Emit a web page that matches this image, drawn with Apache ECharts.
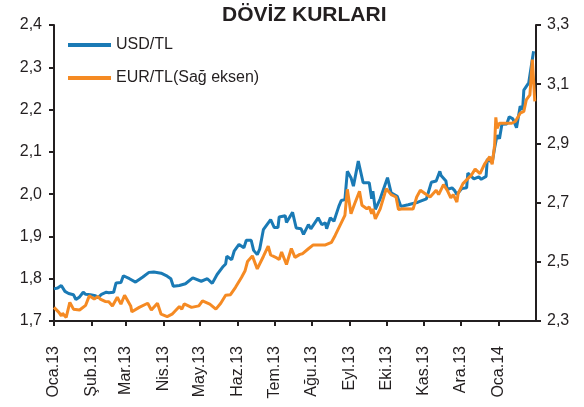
<!DOCTYPE html>
<html>
<head>
<meta charset="utf-8">
<title>Döviz Kurları</title>
<script src="https://cdn.jsdelivr.net/npm/echarts@6.0.0/dist/echarts.min.js"></script>
<style>
  html, body { margin: 0; padding: 0; background: #fff; }
  .echarts_box { width: 584px; height: 407px; }
</style>
</head>
<body>
<div class="echarts_box"></div>
<script>
// gün sayısı: 1 Ocak 2013'ten itibaren
var usdDays = [0, 3, 6, 9, 12, 16, 18, 21, 24, 26, 30, 34, 36, 39, 43, 45, 49, 51, 55, 57,
  62, 67, 73, 78, 82, 88, 93, 96, 98, 103, 108, 114, 121, 126, 130, 134, 139, 141, 142, 146,
  148, 152, 156, 158, 162, 164, 167, 169, 172, 178, 181, 184, 185, 190, 191, 196, 199, 203, 205, 209,
  211, 217, 220, 223, 224, 227, 230, 234, 236, 239, 241, 244, 246, 250, 254, 259, 261, 262, 264, 268,
  274, 277, 282, 285, 291, 299, 306, 310, 314, 317, 318, 322, 323, 327, 329, 331, 335, 339, 340, 345,
  349, 351, 355, 356, 360, 362, 364, 366, 368, 372, 374, 377, 380, 383, 385, 386, 390, 394];
var usdRates = [1.776, 1.778, 1.784, 1.770, 1.765, 1.762, 1.751, 1.757, 1.768, 1.763, 1.762, 1.760, 1.755, 1.763, 1.768, 1.767, 1.768, 1.790, 1.791, 1.807,
  1.800, 1.792, 1.804, 1.815, 1.816, 1.813, 1.806, 1.800, 1.782, 1.784, 1.788, 1.802, 1.794, 1.800, 1.789, 1.810, 1.829, 1.835, 1.853, 1.845,
  1.865, 1.881, 1.873, 1.891, 1.891, 1.867, 1.857, 1.870, 1.916, 1.940, 1.921, 1.921, 1.946, 1.949, 1.933, 1.957, 1.920, 1.918, 1.905, 1.928,
  1.918, 1.944, 1.928, 1.932, 1.918, 1.944, 1.936, 1.971, 1.985, 1.987, 2.054, 2.039, 2.019, 2.078, 2.027, 2.027, 1.989, 2.007, 1.964, 1.989,
  2.039, 2.003, 1.995, 1.971, 1.975, 1.981, 1.989, 2.028, 2.031, 2.054, 2.044, 2.031, 2.011, 2.015, 2.009, 1.999, 2.013, 2.015, 2.050, 2.036,
  2.041, 2.035, 2.042, 2.083, 2.075, 2.109, 2.139, 2.131, 2.165, 2.166, 2.183, 2.178, 2.157, 2.208, 2.200, 2.246, 2.263, 2.338];

var eurDays = [0, 4, 6, 7, 10, 13, 16, 21, 26, 29, 33, 36, 38, 42, 45, 48, 52, 55, 58, 63,
  64, 70, 77, 80, 85, 88, 93, 97, 103, 105, 107, 113, 119, 122, 128, 133, 137, 141, 145, 149,
  154, 157, 159, 163, 167, 172, 176, 178, 183, 185, 187, 191, 195, 198, 202, 204, 209, 213, 223, 228,
  231, 235, 239, 241, 244, 247, 251, 253, 257, 259, 261, 262, 264, 268, 273, 277, 281, 283, 287, 295,
  298, 301, 305, 309, 314, 316, 320, 323, 326, 328, 331, 332, 336, 340, 343, 346, 350, 354, 358, 360,
  362, 363, 364, 366, 372, 376, 379, 383, 386, 388, 391, 393, 395];
var eurRates = [2.346, 2.329, 2.317, 2.326, 2.312, 2.363, 2.340, 2.337, 2.353, 2.385, 2.374, 2.383, 2.374, 2.366, 2.365, 2.351, 2.380, 2.357, 2.387, 2.351,
  2.331, 2.346, 2.360, 2.337, 2.360, 2.323, 2.315, 2.323, 2.349, 2.340, 2.358, 2.346, 2.351, 2.368, 2.357, 2.340, 2.360, 2.387, 2.389, 2.413,
  2.447, 2.470, 2.501, 2.520, 2.476, 2.518, 2.553, 2.523, 2.513, 2.508, 2.533, 2.491, 2.545, 2.515, 2.525, 2.527, 2.544, 2.557, 2.557, 2.566,
  2.589, 2.623, 2.657, 2.745, 2.662, 2.696, 2.738, 2.691, 2.679, 2.685, 2.662, 2.679, 2.645, 2.679, 2.747, 2.727, 2.719, 2.677, 2.679, 2.678,
  2.719, 2.742, 2.730, 2.719, 2.742, 2.727, 2.761, 2.742, 2.716, 2.727, 2.702, 2.730, 2.764, 2.781, 2.793, 2.813, 2.798, 2.832, 2.855, 2.829,
  2.894, 2.988, 2.951, 2.968, 2.968, 2.968, 2.974, 3.002, 3.008, 3.047, 3.064, 3.183, 3.042];

var monthLabels = ['Oca.13', 'Şub.13', 'Mar.13', 'Nis.13', 'May.13', 'Haz.13', 'Tem.13',
  'Ağu.13', 'Eyl.13', 'Eki.13', 'Kas.13', 'Ara.13', 'Oca.14'];
var usdTicks = [1.7, 1.8, 1.9, 2.0, 2.1, 2.2, 2.3, 2.4];
var eurTicks = [2.3, 2.5, 2.7, 2.9, 3.1, 3.3];

// yardımcılar
var DAY = 86400000;
function monthDay(y, m) {
  return Math.round((Date.UTC(y, m, 1) - Date.UTC(2013, 0, 1)) / DAY);
}
function pairs(days, rates) {
  return days.map(function (d, i) { return [d, rates[i]]; });
}
function comma(v) {
  return Number(v).toFixed(1).replace('.', ',');
}
// ay başları (gün olarak)
var monthStarts = monthLabels.map(function (m, i) { return monthDay(2013, i); });
var lastDay = monthDay(2014, 1);

var myChart = echarts.init(document.querySelector('.echarts_box'));

var axisColor = '#231f20';
var fontName = 'Liberation Sans';

var option = {
  animation: false,
  title: {
    text: 'DÖVİZ KURLARI',
    left: 222,
    top: 5,
    padding: 0,
    textStyle: { fontFamily: fontName, fontSize: 21, fontWeight: 'bold', color: axisColor }
  },
  legend: {
    orient: 'vertical',
    left: 68,
    top: 37,
    padding: 0,
    itemWidth: 43,
    itemHeight: 4,
    itemGap: 17,
    icon: 'rect',
    textStyle: { fontFamily: fontName, fontSize: 16, lineHeight: 16, color: axisColor },
    data: ['USD/TL', 'EUR/TL(Sağ eksen)']
  },
  grid: {
    left: 54,
    right: 48,
    top: 25,
    bottom: 86,
    outerBoundsMode: 'none'
  },
  xAxis: {
    type: 'value',
    min: 0,
    max: lastDay,
    axisLine: { lineStyle: { color: axisColor, width: 2 } },
    axisTick: { customValues: monthStarts, length: 5, lineStyle: { color: axisColor, width: 2 } },
    axisLabel: {
      customValues: monthStarts,
      rotate: 90,
      margin: 25,
      fontFamily: fontName,
      fontSize: 16,
      color: axisColor,
      formatter: function (val) {
        return monthLabels[monthStarts.indexOf(Math.round(val))];
      }
    },
    splitLine: { show: false }
  },
  yAxis: [
    {
      type: 'value',
      min: 1.7,
      max: 2.4,
      axisLine: { show: true, lineStyle: { color: axisColor, width: 2 } },
      axisTick: { show: true, customValues: usdTicks, length: 5, lineStyle: { color: axisColor, width: 2 } },
      axisLabel: { customValues: usdTicks, margin: 12, fontFamily: fontName, fontSize: 16, color: axisColor, formatter: comma },
      splitLine: { show: false }
    },
    {
      type: 'value',
      min: 2.3,
      max: 3.3,
      position: 'right',
      axisLine: { show: true, lineStyle: { color: axisColor, width: 2 } },
      axisTick: { show: true, customValues: eurTicks, length: 5, lineStyle: { color: axisColor, width: 2 } },
      axisLabel: { customValues: eurTicks, margin: 11, fontFamily: fontName, fontSize: 16, color: axisColor, formatter: comma },
      splitLine: { show: false }
    }
  ],
  series: [
    {
      name: 'USD/TL',
      type: 'line',
      yAxisIndex: 0,
      showSymbol: false,
      color: '#1a7ab5',
      lineStyle: { width: 3, color: '#1a7ab5' },
      data: pairs(usdDays, usdRates)
    },
    {
      name: 'EUR/TL(Sağ eksen)',
      type: 'line',
      yAxisIndex: 1,
      showSymbol: false,
      color: '#f58a23',
      lineStyle: { width: 3, color: '#f58a23' },
      data: pairs(eurDays, eurRates)
    }
  ]
};

myChart.setOption(option);
</script>
</body>
</html>
